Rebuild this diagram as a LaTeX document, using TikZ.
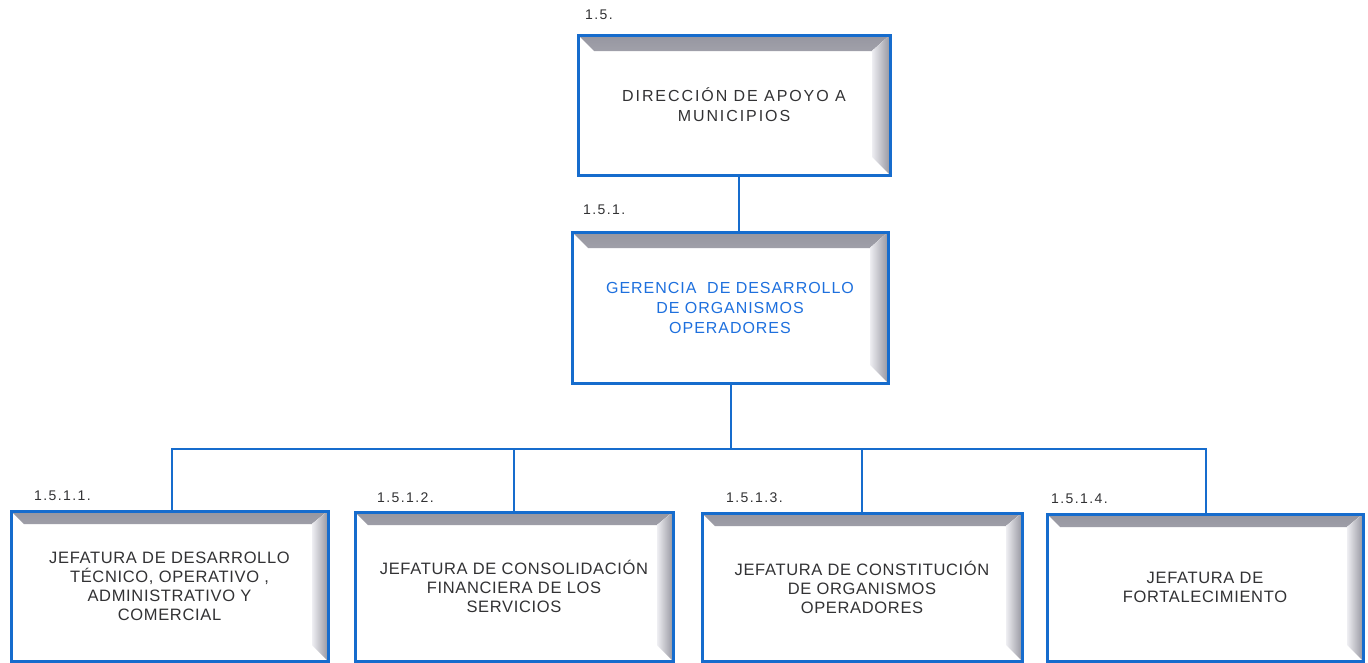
\documentclass[tikz,border=0pt]{standalone}
\usepackage{fontspec}
\setmainfont{Liberation Sans}
\usetikzlibrary{calc}
\definecolor{boxblue}{RGB}{22,108,205}
\definecolor{txtgray}{RGB}{50,50,52}
\definecolor{txtblue}{RGB}{30,112,222}
\definecolor{bevgray}{RGB}{150,150,160}
\definecolor{bevlight}{RGB}{238,238,242}
\newcommand\bevel[2]{%
  \fill[top color=bevgray, bottom color=bevlight]
    (path picture bounding box.north west) -- (path picture bounding box.north east)
    -- ([xshift=-#2,yshift=-#1]path picture bounding box.north east)
    -- ([xshift=#1,yshift=-#1]path picture bounding box.north west) -- cycle;
  \fill[left color=bevlight, right color=bevgray]
    (path picture bounding box.north east) -- (path picture bounding box.south east)
    -- ([xshift=-#2,yshift=#2]path picture bounding box.south east)
    -- ([xshift=-#2,yshift=-#1]path picture bounding box.north east) -- cycle;
}
\tikzset{
  orgbox/.style={draw=boxblue, line width=3pt, fill=white, align=center,
    inner sep=0pt, text=txtgray},
  bigbevel/.style={path picture={\bevel{16pt}{18pt}}},
  smallbevel/.style={path picture={\bevel{13pt}{16pt}}},
  toptext/.style={font=\fontsize{16}{20}\selectfont\addfontfeature{LetterSpace=12}},
  midtext/.style={font=\fontsize{16}{20}\selectfont\addfontfeature{LetterSpace=6}, text=txtblue},
  lowtext/.style={font=\fontsize{16.5}{19}\selectfont\addfontfeature{LetterSpace=4}},
  num/.style={anchor=west, inner sep=0pt, text=txtgray,
    font=\fontsize{14}{16}\selectfont\addfontfeature{LetterSpace=10}},
  conn/.style={draw=boxblue, line width=2pt}
}
\begin{document}
\begin{tikzpicture}[x=1pt,y=-1pt]
\useasboundingbox[fill=white] (0,0) rectangle (1368,662);

\node[orgbox, bigbevel, toptext, minimum width=312pt, minimum height=140pt] (top) at (734,105)
  {DIRECCIÓN DE APOYO A\\MUNICIPIOS};
\node[orgbox, bigbevel, midtext, minimum width=316pt, minimum height=151pt] (mid) at (730,307.5)
  {GERENCIA\ \ DE DESARROLLO\\DE ORGANISMOS\\OPERADORES};

\node[orgbox, smallbevel, lowtext, minimum width=317pt, minimum height=150pt] (b1) at (169.5,586)
  {JEFATURA DE DESARROLLO\\TÉCNICO, OPERATIVO\ ,\\ADMINISTRATIVO Y\\COMERCIAL};
\node[orgbox, smallbevel, lowtext, minimum width=318pt, minimum height=149pt] (b2) at (514,586.5)
  {JEFATURA DE CONSOLIDACIÓN\\FINANCIERA DE LOS\\SERVICIOS};
\node[orgbox, smallbevel, lowtext, minimum width=320pt, minimum height=148pt] (b3) at (862,587)
  {JEFATURA DE CONSTITUCIÓN\\DE ORGANISMOS\\OPERADORES};
\node[orgbox, smallbevel, lowtext, minimum width=316pt, minimum height=147pt] (b4) at (1205,587.5)
  {JEFATURA DE\\FORTALECIMIENTO};

\node[num] (n0) at (585,15) {1.5.};
\node[num] (n1) at (583,210) {1.5.1.};
\node[num] (n11) at (34,496) {1.5.1.1.};
\node[num] (n12) at (377,498) {1.5.1.2.};
\node[num] (n13) at (726,498) {1.5.1.3.};
\node[num] (n14) at (1051,499) {1.5.1.4.};

\coordinate (c1) at (739,0);
\coordinate (c2) at (731,449);
\coordinate (d1) at (172,449);
\coordinate (d2) at (514,449);
\coordinate (d3) at (862,449);
\coordinate (d4) at (1206,449);

\draw[conn] (top.south -| c1) -- (mid.north -| c1);
\draw[conn] (mid.south -| c2) -- (c2);
\draw[conn] (b1.north -| d1) -- (d1) -- (d4) -- (b4.north -| d4);
\draw[conn] (d2) -- (b2.north -| d2);
\draw[conn] (d3) -- (b3.north -| d3);
\end{tikzpicture}
\end{document}
